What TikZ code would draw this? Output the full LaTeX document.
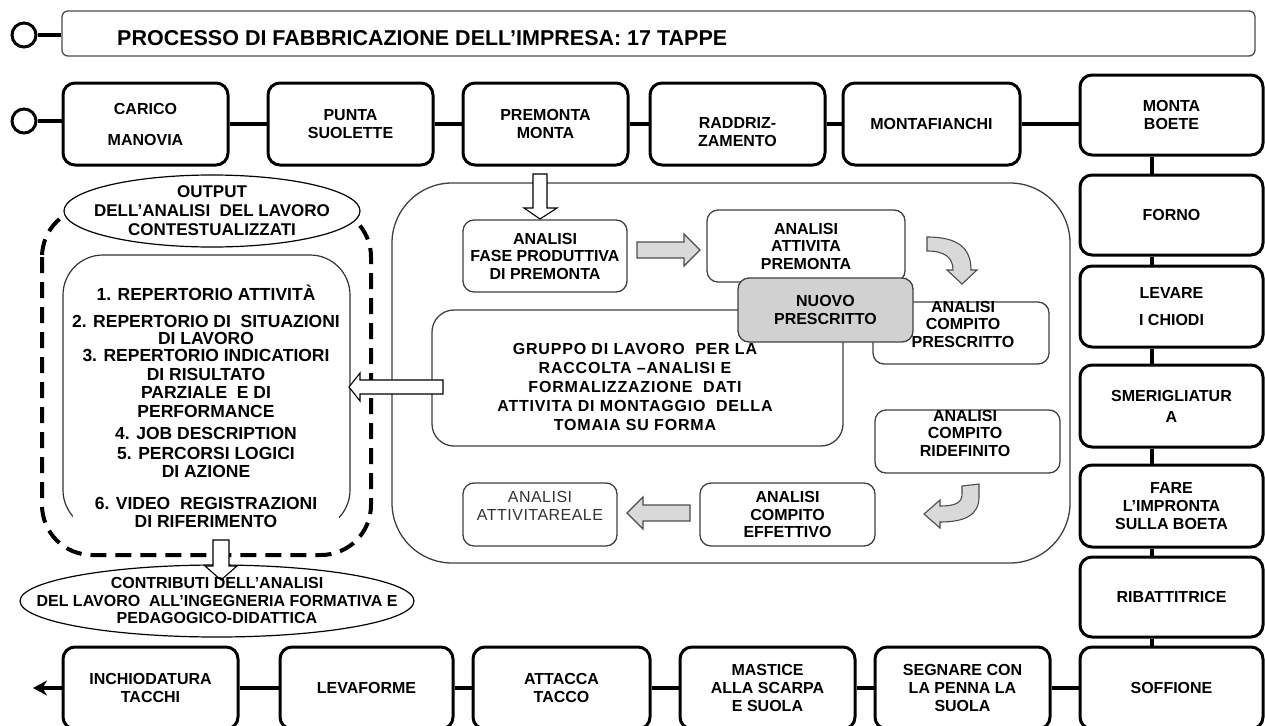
\documentclass[tikz,border=0pt]{standalone}
\usepackage{fontspec}
\setmainfont{Liberation Sans}
\usetikzlibrary{arrows.meta}

\newcommand{\titlefont}{\fontsize{21.5}{24}\selectfont\bfseries}
\newcommand{\stagefont}{\fontsize{16}{18}\selectfont\bfseries}
\newcommand{\analysisfont}{\fontsize{16}{17.5}\selectfont\bfseries}
\newcommand{\gruppofont}{\fontsize{16}{19}\selectfont\bfseries\addfontfeature{LetterSpace=5}}
\newcommand{\listfont}{\fontsize{17.5}{18.5}\selectfont\bfseries}
\newcommand{\headfont}{\fontsize{17}{19}\selectfont\bfseries}
\newcommand{\contribfont}{\fontsize{16}{17.5}\selectfont\bfseries}
\newcommand{\realefont}{\fontsize{16}{17.5}\selectfont\addfontfeature{LetterSpace=3}}

\tikzset{
		% Production stages: thick black rounded boxes and their links
		stage node/.style={draw,line width=3pt,rounded corners=12pt,align=center,inner sep=2pt,font=\stagefont},
		stage text/.style={align=center,inner sep=0pt,font=\stagefont},
		stage link/.style={line width=3.5pt},
		wh/.style 2 args={minimum width=#1pt,minimum height=#2pt},
		% Analysis boxes inside the central frame: thin grey outline
		analysis node/.style={draw=black!75,line width=1.3pt,rounded corners=11pt,align=center,inner sep=2pt,font=\analysisfont},
		analysis text/.style={align=center,inner sep=0pt,font=\analysisfont},
		grey node/.style={analysis node,fill=black!18},
		list text/.style={align=center,inner sep=0pt,font=\listfont},
		% Block arrows: grey filled and hollow
		grey arrow/.style={draw=black!70,line width=1.1pt,fill=black!15},
		hollow arrow/.style={draw=black,line width=1.1pt,fill=white}
	}

\begin{document}
\begin{tikzpicture}[x=1pt,y=-1pt]
		\fill[white] (0,0) rectangle (1265,725);
		\useasboundingbox (0,0) rectangle (1265,725);

		% title bar
		\node[draw=black!70,line width=1.3pt,rounded corners=6pt,wh={1193}{45}] (title) at (658.5,33.5) {};
		\node[anchor=west,inner sep=0pt,font=\titlefont] (title-t) at (117,38) {PROCESSO DI FABBRICAZIONE DELL’IMPRESA: 17 TAPPE};
		\node[circle,draw,line width=3pt,minimum size=24pt,inner sep=0pt] (titlering) at (24,35) {};
		\draw[stage link] (titlering) -- (titlering -| title.west);

		% top row
		\node[circle,draw,line width=3pt,minimum size=24pt,inner sep=0pt] (start) at (24,121) {};
		\node[stage node,wh={165}{82}] (carico) at (145.5,124) {CARICO\\[13pt]MANOVIA};
		\node[stage node,wh={165}{82}] (punta) at (350.5,124) {PUNTA\\SUOLETTE};
		\node[stage node,wh={165}{82}] (premonta) at (545.5,124) {PREMONTA\\MONTA};
		\node[stage node,wh={175}{82}] (raddriz) at (737.5,124) {};
		\node[stage text] (raddriz-t) at (737.5,132) {RADDRIZ-\\ZAMENTO};
		\node[stage node,wh={177}{82}] (montaf) at (931.5,124) {MONTAFIANCHI};
		\node[stage node,wh={183}{80}] (boete) at (1171.5,115) {MONTA\\BOETE};
		\draw[stage link] (start) -- (start -| carico.west);
		\draw[stage link] (carico) -- (punta) -- (premonta) -- (raddriz) -- (montaf);
		\draw[stage link] (montaf.east) -- (montaf.east -| boete.west);

		% right column
		\node[stage node,wh={183}{80}] (forno) at (1171.5,215) {FORNO};
		\node[stage node,wh={183}{81}] (levare) at (1171.5,306.5) {LEVARE\\[9pt]I CHIODI};
		\node[stage node,wh={183}{82}] (smerig) at (1171.5,406) {SMERIGLIATUR\\[3pt]A};
		\node[stage node,wh={183}{82}] (impronta) at (1171.5,506) {FARE\\L’IMPRONTA\\SULLA BOETA};
		\node[stage node,wh={183}{80}] (ribatt) at (1171.5,597) {RIBATTITRICE};
		\node[stage node,wh={183}{82}] (soffione) at (1171.5,688) {SOFFIONE};
		\coordinate (spine) at (1152,0);
		\foreach \a/\b in {boete/forno,forno/levare,levare/smerig,smerig/impronta,impronta/ribatt,ribatt/soffione}
			\draw[stage link] (\a.south -| spine) -- (\b.north -| spine);

		% bottom row
		\node[stage node,wh={175}{82}] (segnare) at (962.5,688) {SEGNARE CON\\LA PENNA LA\\SUOLA};
		\node[stage node,wh={175}{82}] (mastice) at (767.5,688) {MASTICE\\ALLA SCARPA\\E SUOLA};
		\node[stage node,wh={177}{82}] (attacca) at (561.5,688) {ATTACCA\\TACCO};
		\node[stage node,wh={173}{82}] (levaforme) at (366.5,688) {LEVAFORME};
		\node[stage node,wh={175}{82}] (inchiod) at (150.5,688) {INCHIODATURA\\TACCHI};
		\coordinate (exit) at (33,688);
		\draw[stage link] (soffione) -- (segnare) -- (mastice) -- (attacca) -- (levaforme) -- (inchiod);
		\draw[stage link,-{Stealth[length=14pt,width=15pt]}] (inchiod.west) -- (exit);

		% central frame
		\draw[draw=black!75,line width=1.3pt,rounded corners=60pt] (392,183) rectangle (1070,563);

		% outputs of the analysis
		\draw[line width=4pt,dash pattern=on 16pt off 9pt,rounded corners=50pt] (42,207) rectangle (371,555);
		\draw[black!80,line width=1.2pt,rounded corners=40pt] (63,255) rectangle (350,530);
		\draw[line width=1.2pt,fill=white] (212,211) ellipse [x radius=148pt,y radius=36pt];
		\node[align=center,inner sep=0pt,font=\headfont] (outhead) at (212,211) {OUTPUT\\DELL’ANALISI\ \ DEL LAVORO\\CONTESTUALIZZATI};
		\node[list text] (item1) at (206,293) {1. REPERTORIO ATTIVITÀ};
		\node[list text] (item2) at (206,330) {2. REPERTORIO DI\ \ SITUAZIONI\\[-2pt]DI LAVORO};
		\node[list text] (item3) at (206,383.5) {3. REPERTORIO INDICATIORI\\DI RISULTATO\\PARZIALE\ \ E DI\\PERFORMANCE};
		\node[list text] (item4) at (206,433) {4. JOB DESCRIPTION};
		\node[list text] (item5) at (206,462.5) {5. PERCORSI LOGICI\\DI AZIONE};
		\node[list text,fill=white,minimum width=266pt,inner ysep=7pt] (item6) at (206,512.5) {6. VIDEO\ \ REGISTRAZIONI\\DI RIFERIMENTO};

		% contributions
		\draw[line width=1.2pt,fill=white] (217,601) ellipse [x radius=197pt,y radius=36pt];
		\draw[hollow arrow] (213,540) -- (229,540) -- (229,566) -- (237,566) -- (221,580) -- (205,566) -- (213,566) -- cycle;
		\node[align=center,inner sep=0pt,font=\contribfont] (contrib) at (217,600.5) {CONTRIBUTI DELL’ANALISI\\DEL LAVORO\ \ ALL’INGEGNERIA FORMATIVA E\\PEDAGOGICO-DIDATTICA};

		% analysis steps
		\node[analysis node,wh={164}{72}] (fase) at (545,256) {ANALISI\\FASE PRODUTTIVA\\DI PREMONTA};
		\node[analysis node,wh={198}{72}] (attivita) at (806,246) {ANALISI\\ATTIVITA\\PREMONTA};
		\node[analysis node,wh={411}{136},rounded corners=22pt] (gruppo) at (637.5,378) {};
		\node[align=center,inner sep=0pt,font=\gruppofont] (gruppo-t) at (635,387) {GRUPPO DI LAVORO\ \ PER LA\\RACCOLTA –ANALISI E\\FORMALIZZAZIONE\ \ DATI\\ATTIVITA DI MONTAGGIO\ \ DELLA\\TOMAIA SU FORMA};
		\node[analysis node,wh={176}{62}] (prescritto) at (961,333) {};
		\node[analysis node,wh={185}{63}] (ridefinito) at (967.5,441.5) {};
		\node[analysis text] (ridefinito-t) at (965,433) {ANALISI\\COMPITO\\RIDEFINITO};
		\node[analysis node,wh={175}{63}] (effettivo) at (787.5,514.5) {ANALISI\\COMPITO\\EFFETTIVO};
		\node[analysis node,wh={154}{63}] (reale) at (540,514.5) {};
		\node[align=center,inner sep=0pt,font=\realefont,text=black!80] (reale-t) at (540,506) {ANALISI\\ATTIVITAREALE};
		\node[grey node,wh={175}{64}] (nuovo) at (825.5,310) {NUOVO\\PRESCRITTO};
		\node[analysis text] (prescritto-t) at (963,324) {ANALISI\\COMPITO\\PRESCRITTO};

		% arrows between the steps
		\draw[hollow arrow] (533,174) -- (547,174) -- (547,208) -- (557,208) -- (540,219) -- (524,208) -- (533,208) -- cycle;
		\draw[grey arrow] (637,242) -- (684,242) -- (684,234) -- (700,250) -- (684,266) -- (684,258) -- (637,258) -- cycle;
		\draw[grey arrow] (927,237) .. controls (958,237) and (971,248) .. (971,270) -- (977,270) -- (962,284) -- (947,270) -- (953,270) .. controls (953,257) and (944,251) .. (927,251) -- cycle;
		\draw[grey arrow] (962,486) -- (979,484) -- (979,497) .. controls (979,515) and (965,522) .. (940,522) -- (940,528) -- (924,514) -- (940,500) -- (940,506) .. controls (955,506) and (962,503) .. (962,494) -- cycle;
		\draw[grey arrow] (690,505) -- (643,505) -- (643,497) -- (627,513) -- (643,529) -- (643,521) -- (690,521) -- cycle;
		\draw[hollow arrow] (443,380) -- (360,380) -- (360,373) -- (349,387) -- (360,401) -- (360,394) -- (443,394) -- cycle;
	\end{tikzpicture}
\end{document}
